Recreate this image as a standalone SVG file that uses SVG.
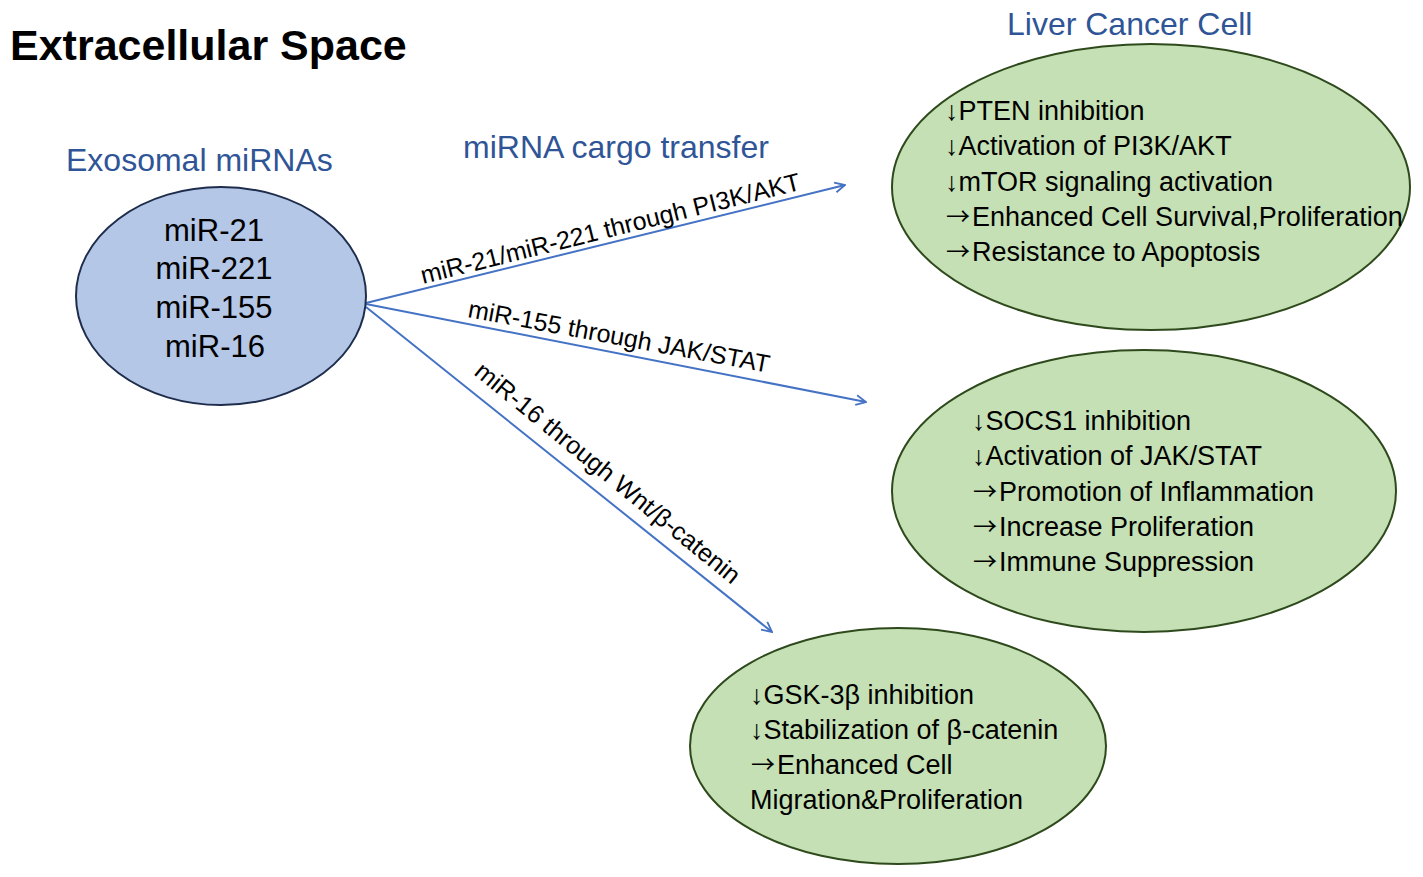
<svg xmlns="http://www.w3.org/2000/svg" width="1423" height="877" viewBox="0 0 1423 877">
<style>
.t{font-family:"Liberation Sans",Arial,sans-serif;fill:#000}
.h{font-family:"Liberation Sans",Arial,sans-serif;fill:#2F5597;font-size:32px}
.g{fill:#C5E0B4;stroke:#2E4A1C;stroke-width:2}
.b{fill:#B4C7E7;stroke:#1F2D4D;stroke-width:2}
.c{stroke:#4472C4;stroke-width:2;fill:none;marker-end:url(#ah)}
.lbl{font-family:"Liberation Sans",Arial,sans-serif;font-size:25px;fill:#000}
.in{font-family:"Liberation Sans",Arial,sans-serif;font-size:27px;fill:#000}
.ar{font-family:"Noto Sans CJK SC",sans-serif;font-size:24px;fill:#000}
.mi{font-family:"Liberation Sans",Arial,sans-serif;font-size:31px;fill:#000;text-anchor:middle}
</style>
<defs>
<marker id="ah" viewBox="0 0 12 12" refX="11" refY="6" markerWidth="12" markerHeight="12" markerUnits="userSpaceOnUse" orient="auto">
<path d="M1,1 L11,6 L1,11" fill="none" stroke="#4472C4" stroke-width="1.8"/>
</marker>
</defs>
<rect width="1423" height="877" fill="#fff"/>
<text class="t" x="10" y="60" font-size="43" font-weight="bold">Extracellular Space</text>
<text class="h" x="1007" y="35">Liver Cancer Cell</text>
<text class="h" x="66" y="171">Exosomal miRNAs</text>
<text class="h" x="463" y="158">miRNA cargo transfer</text>

<g id="connectors">
<line class="c" x1="366" y1="303" x2="845" y2="185"/>
<line class="c" x1="366" y1="304" x2="866" y2="402"/>
<line class="c" x1="366" y1="307" x2="772" y2="632"/>
<text class="lbl" transform="translate(423,284) rotate(-14)">miR-21/miR-221 through PI3K/AKT</text>
<text class="lbl" transform="translate(467,317) rotate(10.5)">miR-155 through JAK/STAT</text>
<text class="lbl" transform="translate(473,374) rotate(39.2)">miR-16 through Wnt/β-catenin</text>
</g>

<g id="exosomal">
<ellipse class="b" cx="221" cy="296" rx="145" ry="109"/>
<text class="mi" x="214" y="241">miR-21</text>
<text class="mi" x="214" y="279">miR-221</text>
<text class="mi" x="214" y="318">miR-155</text>
<text class="mi" x="215" y="357">miR-16</text>
</g>

<g id="cell1">
<ellipse class="g" cx="1151" cy="187" rx="259" ry="143"/>
<text class="in" x="945" y="120">↓PTEN inhibition</text>
<text class="in" x="945" y="155">↓Activation of PI3K/AKT</text>
<text class="in" x="945" y="191">↓mTOR signaling activation</text>
<text class="ar" x="946" y="225">→</text><text class="in" x="972" y="226">Enhanced Cell Survival,Proliferation</text>
<text class="ar" x="946" y="260">→</text><text class="in" x="972" y="261">Resistance to Apoptosis</text>
</g>

<g id="cell2">
<ellipse class="g" cx="1144" cy="491" rx="252" ry="141"/>
<text class="in" x="972" y="430">↓SOCS1 inhibition</text>
<text class="in" x="972" y="465">↓Activation of JAK/STAT</text>
<text class="ar" x="973" y="500">→</text><text class="in" x="999" y="501">Promotion of Inflammation</text>
<text class="ar" x="973" y="535">→</text><text class="in" x="999" y="536">Increase Proliferation</text>
<text class="ar" x="973" y="570">→</text><text class="in" x="999" y="571">Immune Suppression</text>
</g>

<g id="cell3">
<ellipse class="g" cx="898" cy="746" rx="208" ry="118"/>
<text class="in" x="750" y="704">↓GSK-3β inhibition</text>
<text class="in" x="750" y="739">↓Stabilization of β-catenin</text>
<text class="ar" x="751" y="773">→</text><text class="in" x="777" y="774">Enhanced Cell</text>
<text class="in" x="750" y="809">Migration&amp;Proliferation</text>
</g>
</svg>
